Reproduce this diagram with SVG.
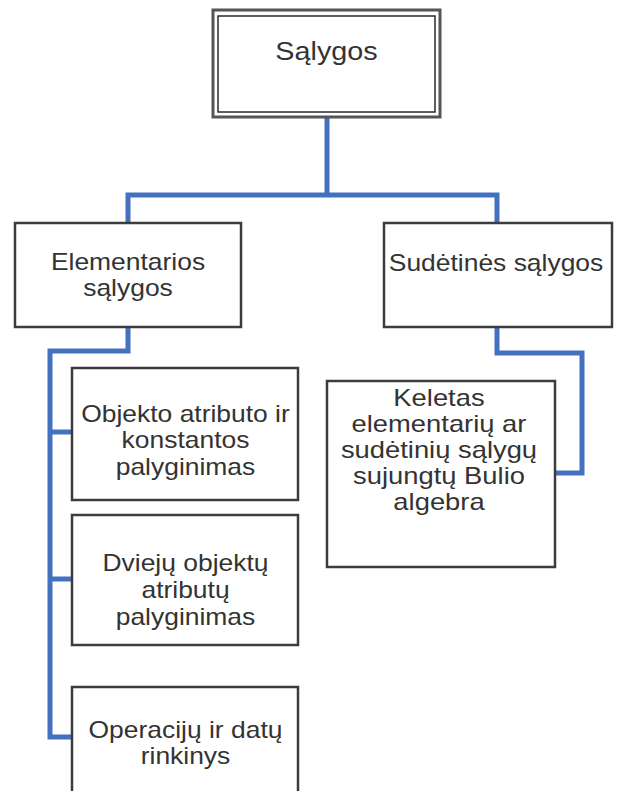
<svg xmlns="http://www.w3.org/2000/svg" width="621" height="791" viewBox="0 0 621 791">
<style>
.box{fill:#ffffff;stroke:#3c3c3c;stroke-width:2.5}
.lbl{font-family:"Liberation Sans",Arial,sans-serif;font-size:23px;fill:#333333;text-anchor:middle}
.conn{fill:none;stroke:#4370bf;stroke-width:5;stroke-linejoin:miter;stroke-linecap:butt}
</style>
<rect width="621" height="791" fill="#ffffff"/>
<g id="connectors">
<path class="conn" d="M327,117 V195"/>
<path class="conn" d="M128,223 V195 H497 V223"/>
<path class="conn" d="M128,327 V351 H50 V737 H72"/>
<path class="conn" d="M50,432 H72"/>
<path class="conn" d="M50,579 H72"/>
<path class="conn" d="M497,327 V353 H582 V473 H555"/>
</g>
<g id="node-salygos">
<rect x="213" y="10" width="227" height="107" fill="#ffffff" stroke="#555555" stroke-width="3"/>
<rect x="218" y="16" width="217" height="96" fill="#ffffff" stroke="#2a2a2a" stroke-width="1.5"/>
<g transform="translate(326.5,0) scale(1.15,1)"><text class="lbl" x="0" y="60" style="font-size:25px">Sąlygos</text></g>
</g>
<g id="node-elementarios">
<rect class="box" x="15" y="223" width="226" height="104"/>
<g transform="translate(128,0) scale(1.15,1)">
<text class="lbl" x="0" y="270">Elementarios</text>
<text class="lbl" x="0" y="296">sąlygos</text>
</g>
</g>
<g id="node-sudetines">
<rect class="box" x="384" y="223" width="228" height="104"/>
<g transform="translate(496,0) scale(1.15,1)"><text class="lbl" x="0" y="271">Sudėtinės sąlygos</text></g>
</g>
<g id="node-objekto">
<rect class="box" x="72" y="368" width="226" height="132"/>
<g transform="translate(185.5,0) scale(1.15,1)">
<text class="lbl" x="0" y="422">Objekto atributo ir</text>
<text class="lbl" x="0" y="448">konstantos</text>
<text class="lbl" x="0" y="475">palyginimas</text>
</g>
</g>
<g id="node-dvieju">
<rect class="box" x="72" y="515" width="226" height="130"/>
<g transform="translate(185.5,0) scale(1.15,1)">
<text class="lbl" x="0" y="571">Dviejų objektų</text>
<text class="lbl" x="0" y="598">atributų</text>
<text class="lbl" x="0" y="625">palyginimas</text>
</g>
</g>
<g id="node-operaciju">
<rect class="box" x="72" y="687" width="226" height="110"/>
<g transform="translate(185.5,0) scale(1.15,1)">
<text class="lbl" x="0" y="738">Operacijų ir datų</text>
<text class="lbl" x="0" y="764">rinkinys</text>
</g>
</g>
<g id="node-keletas">
<rect class="box" x="327" y="381" width="228" height="186"/>
<g transform="translate(439,0) scale(1.19,1)">
<text class="lbl" x="0" y="406">Keletas</text>
<text class="lbl" x="0" y="432">elementarių ar</text>
<text class="lbl" x="0" y="458">sudėtinių sąlygų</text>
<text class="lbl" x="0" y="484">sujungtų Bulio</text>
<text class="lbl" x="0" y="510">algebra</text>
</g>
</g>
</svg>
